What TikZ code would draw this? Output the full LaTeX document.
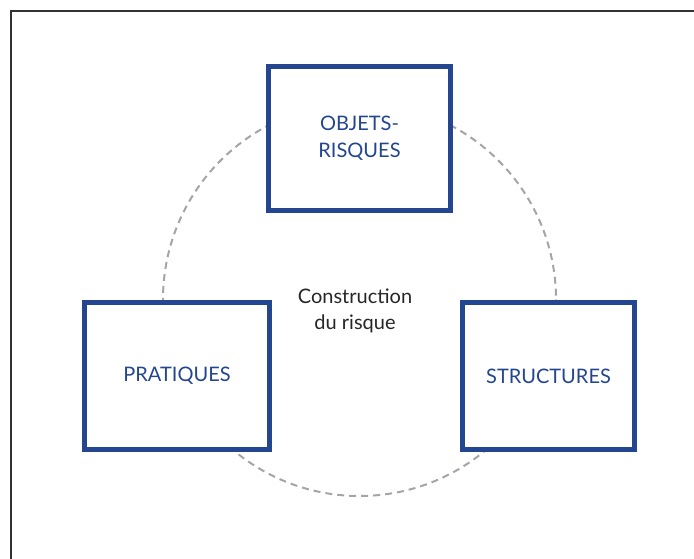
\documentclass[tikz,border=0pt]{standalone}
\usepackage{fontspec}
\setmainfont{Lato}
\usepackage{tikz}
\usetikzlibrary{positioning, calc}
\definecolor{riskblue}{RGB}{36, 70, 145}
\definecolor{framegray}{RGB}{50, 50, 50}
\definecolor{circgray}{RGB}{165, 165, 165}

\begin{document}
\begin{tikzpicture}[x=1pt, y=-1pt,
    boite/.style={draw=riskblue, line width=5pt, fill=white, text=riskblue,
      font=\fontsize{20}{27}\selectfont, align=center, inner sep=0pt},
    cercle/.style={draw=circgray, line width=2pt, dash pattern=on 7pt off 5pt}]
  \useasboundingbox (0,0) rectangle (694,559);
  % cadre
  \draw[framegray, line width=2pt] (11,559) -- (11,11) -- (694,11);

  % === cercle ===
  \draw[cercle] (359.5,299.5) circle (196.5);
  \node[font=\fontsize{20}{26}\selectfont, align=center, text=black!85] (centre) at (355,311)
    {Construction\\du risque};

  % === boites ===
  \node[boite, minimum width=182pt, minimum height=144pt] (objets) at (359.5,138.5)
    {OBJETS-\\RISQUES};
  \node[boite, minimum width=185pt, minimum height=147pt] (pratiques) at (177,376)
    {PRATIQUES};
  \node[boite, minimum width=172pt, minimum height=147pt] (structures) at (548.5,376)
    {STRUCTURES};
\end{tikzpicture}
\end{document}
